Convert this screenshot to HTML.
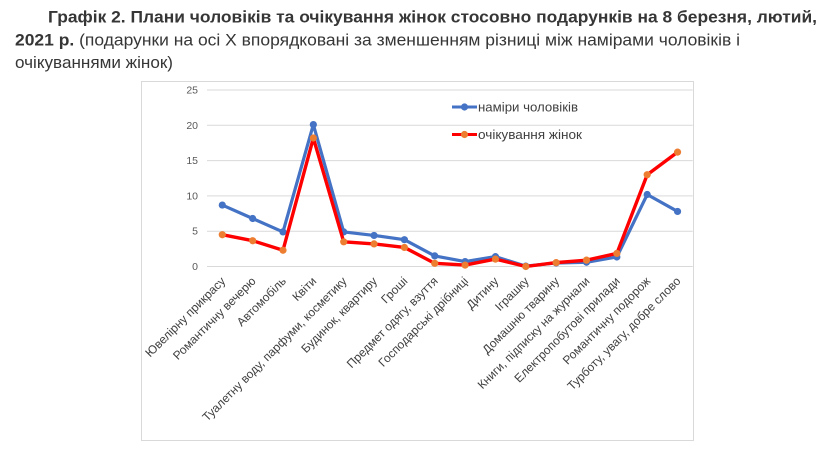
<!DOCTYPE html>
<html><head><meta charset="utf-8"><style>
html,body{margin:0;padding:0;background:#fff;}
svg{display:block;}
</style></head><body>
<svg width="827" height="460" viewBox="0 0 827 460" xmlns="http://www.w3.org/2000/svg" font-family="Liberation Sans, Arial, sans-serif">
<rect width="827" height="460" fill="#fff"/>
<g fill="#363636" font-size="16.5">
<text x="48" y="22.5" font-weight="bold" textLength="769" lengthAdjust="spacingAndGlyphs">Графік 2. Плани чоловіків та очікування жінок стосовно подарунків на 8 березня, лютий,</text>
<text x="15" y="45.5" textLength="725" lengthAdjust="spacingAndGlyphs"><tspan font-weight="bold">2021 р.</tspan> (подарунки на осі Х впорядковані за зменшенням різниці між намірами чоловіків і</text>
<text x="15" y="68" textLength="158" lengthAdjust="spacingAndGlyphs">очікуваннями жінок)</text>
</g>
<rect x="141.5" y="81.5" width="552" height="359" fill="none" stroke="#d9d9d9" stroke-width="1"/>
<g stroke="#d9d9d9" stroke-width="1">
<line x1="207" y1="266.5" x2="692.7" y2="266.5"/>
<line x1="207" y1="231.2" x2="692.7" y2="231.2"/>
<line x1="207" y1="195.9" x2="692.7" y2="195.9"/>
<line x1="207" y1="160.6" x2="692.7" y2="160.6"/>
<line x1="207" y1="125.3" x2="692.7" y2="125.3"/>
<line x1="207" y1="90" x2="692.7" y2="90"/>
</g>
<g fill="#595959" font-size="10.5" text-anchor="end">
<text x="198" y="270">0</text>
<text x="198" y="234.7">5</text>
<text x="198" y="199.4">10</text>
<text x="198" y="164.1">15</text>
<text x="198" y="128.8">20</text>
<text x="198" y="93.5">25</text>
</g>
<polyline fill="none" stroke="#4472C4" stroke-width="3.2" stroke-linejoin="round" points="222.3,205.08 252.65,218.49 283,231.91 313.35,124.59 343.7,231.91 374.05,235.44 404.4,239.67 434.75,255.91 465.1,261.56 495.45,256.62 525.8,266.15 556.15,262.97 586.5,262.26 616.85,256.97 647.2,194.49 677.55,211.43"/>
<g fill="#4472C4">
<circle cx="222.3" cy="205.08" r="3.6"/><circle cx="252.65" cy="218.49" r="3.6"/><circle cx="283" cy="231.91" r="3.6"/><circle cx="313.35" cy="124.59" r="3.6"/><circle cx="343.7" cy="231.91" r="3.6"/><circle cx="374.05" cy="235.44" r="3.6"/><circle cx="404.4" cy="239.67" r="3.6"/><circle cx="434.75" cy="255.91" r="3.6"/><circle cx="465.1" cy="261.56" r="3.6"/><circle cx="495.45" cy="256.62" r="3.6"/><circle cx="525.8" cy="266.15" r="3.6"/><circle cx="556.15" cy="262.97" r="3.6"/><circle cx="586.5" cy="262.26" r="3.6"/><circle cx="616.85" cy="256.97" r="3.6"/><circle cx="647.2" cy="194.49" r="3.6"/><circle cx="677.55" cy="211.43" r="3.6"/>
</g>
<polyline fill="none" stroke="#FF0000" stroke-width="3.4" stroke-linejoin="round" points="222.3,234.73 252.65,240.73 283,250.26 313.35,138.01 343.7,241.79 374.05,243.91 404.4,247.44 434.75,263.32 465.1,265.09 495.45,259.09 525.8,266.5 556.15,262.62 586.5,260.15 616.85,253.44 647.2,174.72 677.55,152.13"/>
<g fill="#ED7D31">
<circle cx="222.3" cy="234.73" r="3.6"/><circle cx="252.65" cy="240.73" r="3.6"/><circle cx="283" cy="250.26" r="3.6"/><circle cx="313.35" cy="138.01" r="3.6"/><circle cx="343.7" cy="241.79" r="3.6"/><circle cx="374.05" cy="243.91" r="3.6"/><circle cx="404.4" cy="247.44" r="3.6"/><circle cx="434.75" cy="263.32" r="3.6"/><circle cx="465.1" cy="265.09" r="3.6"/><circle cx="495.45" cy="259.09" r="3.6"/><circle cx="525.8" cy="266.5" r="3.6"/><circle cx="556.15" cy="262.62" r="3.6"/><circle cx="586.5" cy="260.15" r="3.6"/><circle cx="616.85" cy="253.44" r="3.6"/><circle cx="647.2" cy="174.72" r="3.6"/><circle cx="677.55" cy="152.13" r="3.6"/>
</g>
<g font-size="13" fill="#404040">
<line x1="452" y1="107" x2="477" y2="107" stroke="#4472C4" stroke-width="3"/>
<circle cx="464.5" cy="107" r="3.6" fill="#4472C4"/>
<text x="478" y="111.5" textLength="100" lengthAdjust="spacingAndGlyphs">наміри чоловіків</text>
<line x1="452" y1="134.5" x2="477" y2="134.5" stroke="#FF0000" stroke-width="3"/>
<circle cx="464.5" cy="134.5" r="3.6" fill="#ED7D31"/>
<text x="478" y="139" textLength="104" lengthAdjust="spacingAndGlyphs">очікування жінок</text>
</g>
<g font-size="12" fill="#404040" text-anchor="end" dominant-baseline="central">
<text transform="translate(223.3,279) rotate(-45)">Ювелірну прикрасу</text>
<text transform="translate(253.65,279) rotate(-45)">Романтичну вечерю</text>
<text transform="translate(284,279) rotate(-45)">Автомобіль</text>
<text transform="translate(314.35,279) rotate(-45)">Квіти</text>
<text transform="translate(344.7,279) rotate(-45)">Туалетну воду, парфуми, косметику</text>
<text transform="translate(375.05,279) rotate(-45)">Будинок, квартиру</text>
<text transform="translate(405.4,279) rotate(-45)">Гроші</text>
<text transform="translate(435.75,279) rotate(-45)">Предмет одягу, взуття</text>
<text transform="translate(466.1,279) rotate(-45)">Господарські дрібниці</text>
<text transform="translate(496.45,279) rotate(-45)">Дитину</text>
<text transform="translate(526.8,279) rotate(-45)">Іграшку</text>
<text transform="translate(557.15,279) rotate(-45)">Домашню тварину</text>
<text transform="translate(587.5,279) rotate(-45)">Книги, підписку на журнали</text>
<text transform="translate(617.85,279) rotate(-45)">Електропобутові прилади</text>
<text transform="translate(648.2,279) rotate(-45)">Романтичну подорож</text>
<text transform="translate(678.55,279) rotate(-45)">Турботу, увагу, добре слово</text>
</g>
</svg>
</body></html>
